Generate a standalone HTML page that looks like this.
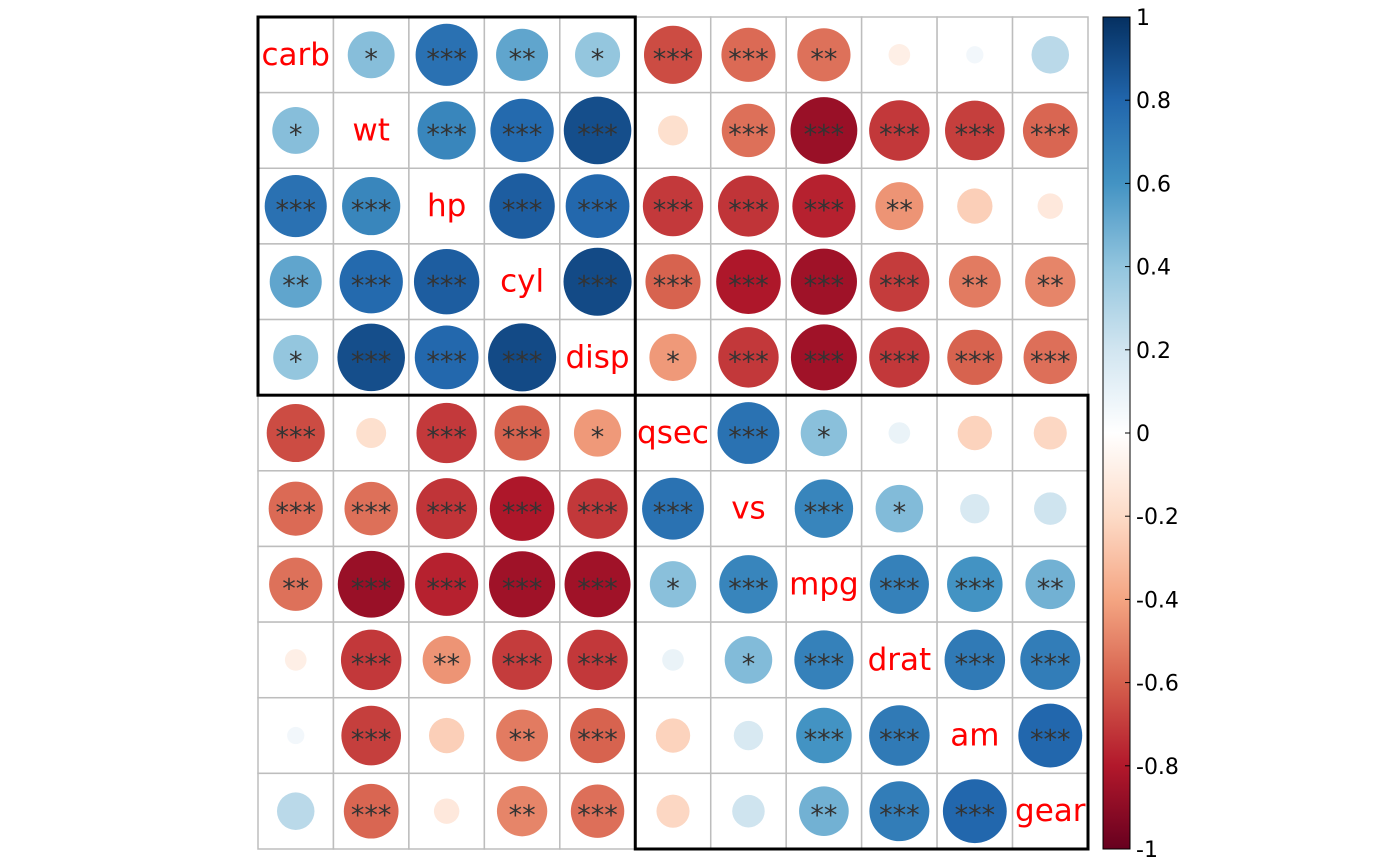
<!DOCTYPE html>
<html><head><meta charset="utf-8"><style>
html,body{margin:0;padding:0;background:#fff;}
svg{display:block;font-family:"DejaVu Sans","Liberation Sans",sans-serif;}
</style></head><body>
<svg id="chart" width="1400" height="866" viewBox="0 0 1400 866"></svg>
<script>
const vars = ["carb","wt","hp","cyl","disp","qsec","vs","mpg","drat","am","gear"];
const corrRows = [
 [1, 0.428, 0.750, 0.527, 0.395, -0.656, -0.570, -0.551, -0.091, 0.058, 0.274],
 [0.428, 1, 0.659, 0.782, 0.888, -0.175, -0.555, -0.868, -0.712, -0.692, -0.583],
 [0.750, 0.659, 1, 0.832, 0.791, -0.708, -0.723, -0.776, -0.449, -0.243, -0.126],
 [0.527, 0.782, 0.832, 1, 0.902, -0.591, -0.811, -0.852, -0.700, -0.523, -0.493],
 [0.395, 0.888, 0.791, 0.902, 1, -0.434, -0.710, -0.848, -0.710, -0.591, -0.556],
 [-0.656, -0.175, -0.708, -0.591, -0.434, 1, 0.745, 0.419, 0.091, -0.230, -0.213],
 [-0.570, -0.555, -0.723, -0.811, -0.710, 0.745, 1, 0.664, 0.440, 0.168, 0.206],
 [-0.551, -0.868, -0.776, -0.852, -0.848, 0.419, 0.664, 1, 0.681, 0.600, 0.480],
 [-0.091, -0.712, -0.449, -0.700, -0.710, 0.091, 0.440, 0.681, 1, 0.713, 0.700],
 [0.058, -0.692, -0.243, -0.523, -0.591, -0.230, 0.168, 0.600, 0.713, 1, 0.794],
 [0.274, -0.583, -0.126, -0.493, -0.556, -0.213, 0.206, 0.480, 0.700, 0.794, 1]
];
const clusterStarts = [0, 5];
const clusterEnds = [4, 10];
const colorbarTicks = ["1","0.8","0.6","0.4","0.2","0","-0.2","-0.4","-0.6","-0.8","-1"];
const nObs = 32;

const NS="http://www.w3.org/2000/svg";
const svg=document.getElementById('chart');
const X0=258, Y0=17, X1=1088, Y1=849, N=vars.length;
const cw=(X1-X0)/N, ch=(Y1-Y0)/N;
const xPos=i=>X0+i*cw, yPos=i=>Y0+i*ch;
const pal=[[103,0,31],[178,24,43],[214,96,77],[244,165,130],[253,219,199],[255,255,255],[209,229,240],[146,197,222],[67,147,195],[33,102,172],[5,48,97]];
function col(v){const t=(v+1)/2*10;let i=Math.min(9,Math.floor(t));const f=t-i;const a=pal[i],b=pal[i+1];
 return `rgb(${a.map((c,k)=>Math.round(c+(b[k]-c)*f)).join(',')})`;}
function el(tag,attrs,parent){const e=document.createElementNS(NS,tag);for(const k in attrs)e.setAttribute(k,attrs[k]);(parent||svg).appendChild(e);return e;}
function stars(r){const t=Math.abs(r)*Math.sqrt((nObs-2)/(1-r*r));
 if(t>3.646)return "***"; if(t>2.750)return "**"; if(t>2.042)return "*"; return "";}

const grid=el('g',{});


for(let i=0;i<N;i++)for(let j=0;j<N;j++){
 const r=el('rect',{x:xPos(j),y:yPos(i),width:cw,height:ch,fill:'#fff',stroke:'#bdbdbd','stroke-width':1.5},grid);
 
 
}
const maxR=cw/2*0.95;
for(let i=0;i<N;i++)for(let j=0;j<N;j++){
 const cx=xPos(j)+cw/2, cy=yPos(i)+ch/2;
 if(i===j){
  const t=el('text',{x:cx,y:cy+10,'text-anchor':'middle','font-size':31,fill:'#ff0000'});
  t.textContent=vars[i];
  
  
  continue;
 }
 const v=corrRows[i][j];
 const c=el('circle',{cx:cx,cy:cy,r:maxR*Math.sqrt(Math.abs(v)),fill:col(v)});
 
 
 const s=stars(v);
 if(s){const t=el('text',{x:cx,y:cy+13,'text-anchor':'middle','font-size':27,fill:'#333'});
  t.textContent=s;
  
  }
}
for(let k=0;k<clusterStarts.length;k++){
 const a=clusterStarts[k], b=clusterEnds[k];
 const r=el('rect',{x:xPos(a),y:yPos(a),width:(b-a+1)*cw,height:(b-a+1)*ch,fill:'none',stroke:'#000','stroke-width':3});
 
 
}
const CX=1103, CW=27;
const defs=el('defs',{});
const lg=el('linearGradient',{id:'cb',x1:0,y1:0,x2:0,y2:1},defs);
for(let k=0;k<=20;k++){const v=1-k/10;el('stop',{offset:(k/20),'stop-color':col(v)},lg);}
const cb=el('rect',{x:CX,y:Y0,width:CW,height:Y1-Y0,fill:'url(#cb)',stroke:'#000','stroke-width':1});


colorbarTicks.forEach(lbl=>{
 const v=parseFloat(lbl); const y=Y0+(1-v)/2*(Y1-Y0);
 el('line',{x1:CX+CW-5,x2:CX+CW,y1:y,y2:y,stroke:'#000','stroke-width':1});
 const t=el('text',{x:CX+CW+6,y:y+8,'font-size':22,fill:'#000'});
 t.textContent=lbl;
 
 
});
</script>
</body></html>
